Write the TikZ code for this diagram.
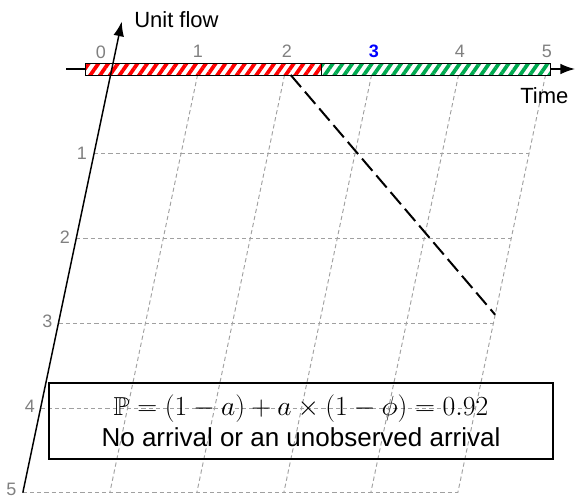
\documentclass[tikz,border=0pt]{standalone}
\usepackage{fontspec}
\setsansfont{Liberation Sans}
\usepackage{amssymb}
\usetikzlibrary{arrows.meta, patterns.meta}
\definecolor{rayared}{RGB}{255,0,0}
\definecolor{rayaverde}{RGB}{0,170,80}
\definecolor{gristick}{RGB}{128,128,128}
\definecolor{grirejilla}{RGB}{160,160,160}
\begin{document}
\begin{tikzpicture}[x=0.75pt, y=-0.75pt, font=\sffamily]
\tikzstyle{rejilla}=[draw=grirejilla, dash pattern=on 3.2pt off 2.2pt, line width=0.7pt]
\tikzstyle{tick}=[text=gristick, font=\sffamily\fontsize{13.5}{16}\selectfont, inner sep=0pt]
\tikzstyle{eje}=[line width=1.1pt, -{Latex[length=11pt, width=8pt]}]
\tikzstyle{barra}=[draw, line width=0.75pt, preaction={fill=white}]
\tikzstyle{etiqueta}=[anchor=west, inner sep=0pt, font=\sffamily\fontsize{16.5}{20}\selectfont]
\useasboundingbox (0,0) rectangle (576,497);

% Rejilla oblicua (tiempo x flujo)
\begin{scope}[shift={(111.8,69)}, x={(65.25pt,0pt)}, y={(-13.35pt,-63.56pt)}]
\coordinate (ytop) at (0,-0.56); \coordinate (ybot) at (0,5);
\coordinate (xl) at (-0.526,0); \coordinate (xr) at (5.324,0);
\coordinate (d1) at (2.07,0.07); \coordinate (d2) at (5,2.9);
\draw[rejilla] (0,1) -- (5,1); \draw[rejilla] (0,2) -- (5,2); \draw[rejilla] (0,3) -- (5,3); \draw[rejilla] (0,4) -- (5,4); \draw[rejilla] (0,5) -- (5,5);
\draw[rejilla] (1,0.07) -- (1,5); \draw[rejilla] (2,0.07) -- (2,5); \draw[rejilla] (3,0.07) -- (3,5); \draw[rejilla] (4,0.07) -- (4,5); \draw[rejilla] (5,0.07) -- (5,5);
\end{scope}

\draw[eje] (xl) -- (xr);
\draw[barra, pattern={Lines[angle=55, distance=6pt, line width=2.8pt]}, pattern color=rayared] (85,63) rectangle (321,75);
\draw[barra, pattern={Lines[angle=55, distance=6pt, line width=2.8pt]}, pattern color=rayaverde] (321,63) rectangle (550,75);
\draw[eje] (ybot) -- (ytop);
\draw[line width=1.5pt, dash pattern=on 12pt off 4.5pt] (d1) -- (d2);

\node[etiqueta] (flujo) at (134,19.6) {Unit flow};
\node[etiqueta] (tiempo) at (520,95.3) {Time};

\node[tick] (t0) at (101,52) {0}; \node[tick] (t1) at (198,51.5) {1}; \node[tick] (t2) at (287,51.5) {2};
\node[tick, text=blue] (t3) at (374,51.5) {\bfseries 3}; \node[tick] (t4) at (460,51.5) {4}; \node[tick] (t5) at (547,51.5) {5};
\node[tick] (u1) at (82,153) {1}; \node[tick] (u2) at (65,237) {2}; \node[tick] (u3) at (47.5,321) {3}; \node[tick] (u4) at (30,406) {4}; \node[tick] (u5) at (11.5,489) {5};

\node[draw, line width=1.5pt, minimum width=378pt, minimum height=57pt, align=center, font=\sffamily\fontsize{19.5}{23.5}\selectfont] (caja) at (301,421)
  {$\mathbb{P} = (1-a) + a\times(1-\phi) = 0.92$\\No arrival or an unobserved arrival};
\end{tikzpicture}
\end{document}
